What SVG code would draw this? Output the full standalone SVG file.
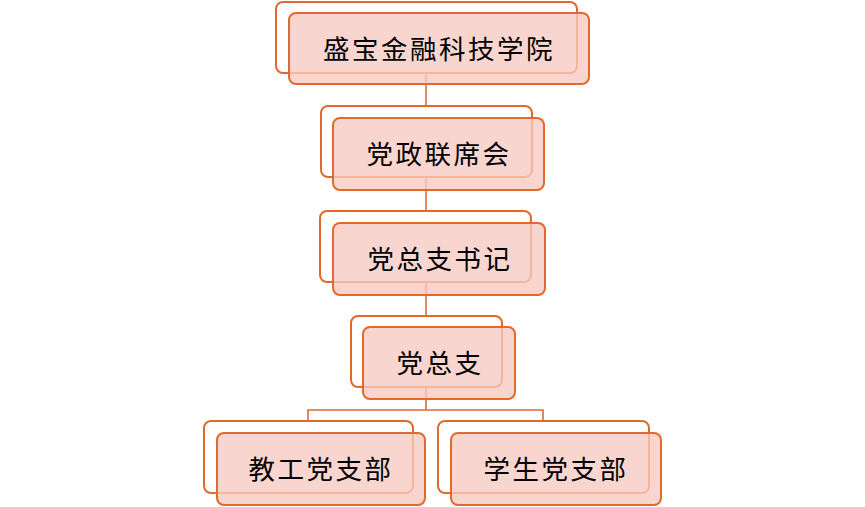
<svg xmlns="http://www.w3.org/2000/svg" width="865" height="507" viewBox="0 0 865 507">
<style>
.bg{fill:#ffffff;stroke:#E2692C;stroke-width:2}
.fg{fill:#F6CAC2;fill-opacity:0.78;stroke:#E2692C;stroke-width:2}
.conn{fill:none;stroke:#E2692C;stroke-width:1.6}
text{font-family:"Noto Sans CJK SC","Noto Sans",sans-serif;font-size:26.5px;fill:#000;text-anchor:middle;dominant-baseline:central;letter-spacing:2.5px}
</style>
<rect width="865" height="507" fill="#fff"/>
<g id="connectors">
<line class="conn" x1="426" y1="72" x2="426" y2="106"/>
<line class="conn" x1="426" y1="177" x2="426" y2="211"/>
<line class="conn" x1="426" y1="282" x2="426" y2="316"/>
<path class="conn" d="M426 387 V410 M308 421 V410 H543 V421"/>
</g>
<g id="n1">
<rect class="bg" x="276" y="2" width="301" height="71" rx="7"/>
<rect class="fg" x="289" y="13" width="300" height="71" rx="7"/>
<text x="439" y="47">盛宝金融科技学院</text>
</g>
<g id="n2">
<rect class="bg" x="321" y="106" width="211" height="71" rx="7"/>
<rect class="fg" x="333" y="118" width="211" height="72" rx="7"/>
<text x="439" y="152">党政联席会</text>
</g>
<g id="n3">
<rect class="bg" x="320" y="211" width="211" height="71" rx="7"/>
<rect class="fg" x="333" y="223" width="212" height="72" rx="7"/>
<text x="440" y="257">党总支书记</text>
</g>
<g id="n4">
<rect class="bg" x="351" y="316" width="151" height="71" rx="7"/>
<rect class="fg" x="363" y="327" width="152" height="72" rx="7"/>
<text x="440" y="361">党总支</text>
</g>
<g id="n5">
<rect class="bg" x="204" y="421" width="209" height="72" rx="7"/>
<rect class="fg" x="217" y="433" width="208" height="72" rx="7"/>
<text x="321" y="467">教工党支部</text>
</g>
<g id="n6">
<rect class="bg" x="438" y="421" width="211" height="72" rx="7"/>
<rect class="fg" x="451" y="433" width="210" height="72" rx="7"/>
<text x="556" y="467">学生党支部</text>
</g>
</svg>
